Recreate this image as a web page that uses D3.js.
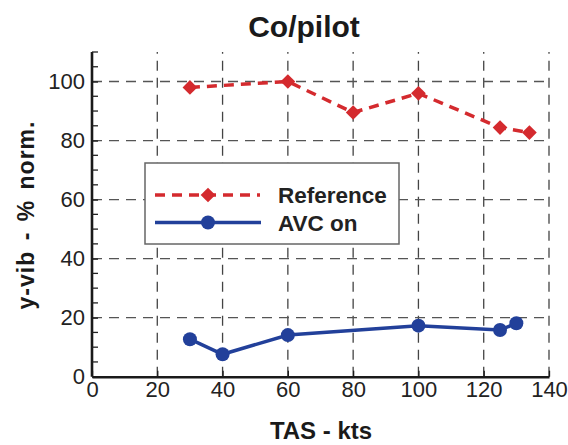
<!DOCTYPE html>
<html>
<head>
<meta charset="utf-8">
<script src="https://cdn.jsdelivr.net/npm/d3@7"></script>
<style>
  body { margin: 0; background: #fff; }
  svg { display: block; font-family: "Liberation Sans", Arial, sans-serif; }
</style>
</head>
<body>
<svg id="chart" width="568" height="445"></svg>
<script>
/** Chart data **/
var refSpeed  = [30, 60, 80, 100, 125, 134];
var refVib    = [98, 100, 89.5, 96, 84.4, 82.7];
var avcSpeed  = [30, 40, 60, 100, 125, 130];
var avcVib    = [12.7, 7.6, 14.1, 17.3, 15.8, 18.1];
var xTicks    = [0, 20, 40, 60, 80, 100, 120, 140];
var yTicks    = [0, 20, 40, 60, 80, 100];
var seriesNames = ["Reference", "AVC on"];

var color_ref   = '#d42a2e';
var color_avc   = '#22409a';
var color_grid  = '#444';

var svg = d3.select("#chart");

var xScale = d3.scaleLinear().domain([0, 140]).range([92, 549]);
var yScale = d3.scaleLinear().domain([0, 110]).range([376.7, 52]);

// Grid lines (dashed), drawn first.
var grid = svg.append("g");
grid.selectAll("line.gx")
    .data(xTicks.slice(1))
    .enter().append("line")
    .attr("x1", function(d) { return xScale(d); })
    .attr("x2", function(d) { return xScale(d); })
    .attr("y1", yScale(0))
    .attr("y2", yScale(110))
    .style("stroke", color_grid)
    .style("stroke-width", 1.3)
    .style("stroke-dasharray", "10,7");

grid.selectAll("line.gy")
    .data(yTicks.slice(1))
    .enter().append("line")
    .attr("x1", xScale(0))
    .attr("x2", xScale(140))
    .attr("y1", function(d) { return yScale(d); })
    .attr("y2", function(d) { return yScale(d); })
    .style("stroke", "#555")
    .style("stroke-width", 1.3)
    .style("stroke-dasharray", "10,7");

// Axes with inward ticks.
var xAxis = d3.axisBottom(xScale).tickValues(xTicks).tickSizeInner(-6).tickSizeOuter(0).tickPadding(5);
var yAxis = d3.axisLeft(yScale).tickValues(yTicks).tickSizeInner(-6).tickSizeOuter(0).tickPadding(7);

var gx = svg.append("g")
    .attr("transform", "translate(0," + yScale(0) + ")")
    .call(xAxis);
var gy = svg.append("g")
    .attr("transform", "translate(" + xScale(0) + ",0)")
    .call(yAxis);

// minor y ticks every 5
gy.selectAll("line.minor")
    .data(d3.range(5, 111, 5).filter(function(v) { return v % 20 != 0; }))
    .enter().append("line")
    .attr("x1", 0).attr("x2", 6)
    .attr("y1", function(d) { return yScale(d); })
    .attr("y2", function(d) { return yScale(d); })
    .style("stroke", "#222")
    .style("stroke-width", 1.3);

[gx, gy].forEach(function(g) {
    g.select(".domain").style("stroke", "#1a1a1a").style("stroke-width", 2.6);
    g.selectAll(".tick line").style("stroke", "#1a1a1a").style("stroke-width", 1.3);
    g.selectAll("text")
        .style("font-size", "22px")
        .style("fill", "#222")
        .style("font-family", "'Liberation Sans', Arial, sans-serif");
});
gy.select(".domain").attr("d", "M0," + yScale(110) + "V" + yScale(0));

// Data lines
var line = d3.line()
    .x(function(d) { return xScale(d[0]); })
    .y(function(d) { return yScale(d[1]); });

var refData = d3.zip(refSpeed, refVib);
var avcData = d3.zip(avcSpeed, avcVib);

svg.append("path")
    .datum(refData)
    .attr("d", line)
    .style("fill", "none")
    .style("stroke", color_ref)
    .style("stroke-width", 3.5)
    .style("stroke-dasharray", "10,7");

svg.append("path")
    .datum(avcData)
    .attr("d", line)
    .style("fill", "none")
    .style("stroke", color_avc)
    .style("stroke-width", 3.5);

var diamond = d3.symbol().type(d3.symbolSquare).size(108);

svg.selectAll("path.ref")
    .data(refData)
    .enter().append("path")
    .attr("d", diamond)
    .attr("transform", function(d) {
        return "translate(" + xScale(d[0]) + "," + yScale(d[1]) + ") rotate(45)";
    })
    .style("fill", color_ref);

svg.selectAll("circle.avc")
    .data(avcData)
    .enter().append("circle")
    .attr("cx", function(d) { return xScale(d[0]); })
    .attr("cy", function(d) { return yScale(d[1]); })
    .attr("r", 7)
    .style("fill", color_avc);

// Legend
var legend = svg.append("g");
legend.append("rect")
    .attr("x", 145).attr("y", 163)
    .attr("width", 254).attr("height", 81)
    .style("fill", "#fff")
    .style("stroke", "#666")
    .style("stroke-width", 1.5);

var legRows = [195, 222.5];
legend.append("line")
    .attr("x1", 155).attr("x2", 260)
    .attr("y1", legRows[0]).attr("y2", legRows[0])
    .style("stroke", color_ref).style("stroke-width", 3.5)
    .style("stroke-dasharray", "10,7");
legend.append("path")
    .attr("d", diamond)
    .attr("transform", "translate(208," + legRows[0] + ") rotate(45)")
    .style("fill", color_ref);
legend.append("line")
    .attr("x1", 155).attr("x2", 261)
    .attr("y1", legRows[1]).attr("y2", legRows[1])
    .style("stroke", color_avc).style("stroke-width", 3.5);
legend.append("circle")
    .attr("cx", 208).attr("cy", legRows[1]).attr("r", 7)
    .style("fill", color_avc);

legend.selectAll("text")
    .data(seriesNames)
    .enter().append("text")
    .attr("x", 278)
    .attr("y", function(d, i) { return legRows[i] + 8; })
    .style("font-size", "22.5px")
    .style("font-weight", "bold")
    .style("fill", "#222")
    .text(function(d) { return d; });

// Titles
svg.append("text")
    .attr("x", 304).attr("y", 37)
    .attr("text-anchor", "middle")
    .style("font-size", "30px")
    .style("font-weight", "bold")
    .style("fill", "#1a1a1a")
    .text("Co/pilot");

svg.append("text")
    .attr("x", 321).attr("y", 439)
    .attr("text-anchor", "middle")
    .style("font-size", "24px")
    .style("font-weight", "bold")
    .style("fill", "#1a1a1a")
    .text("TAS - kts");

svg.append("text")
    .attr("transform", "translate(34,215) rotate(-90)")
    .attr("text-anchor", "middle")
    .style("font-size", "23px")
    .style("font-weight", "bold")
    .style("fill", "#1a1a1a")
    .style("letter-spacing", "1px")
    .style("word-spacing", "3px")
    .text("y-vib - % norm.");
</script>
</body>
</html>
